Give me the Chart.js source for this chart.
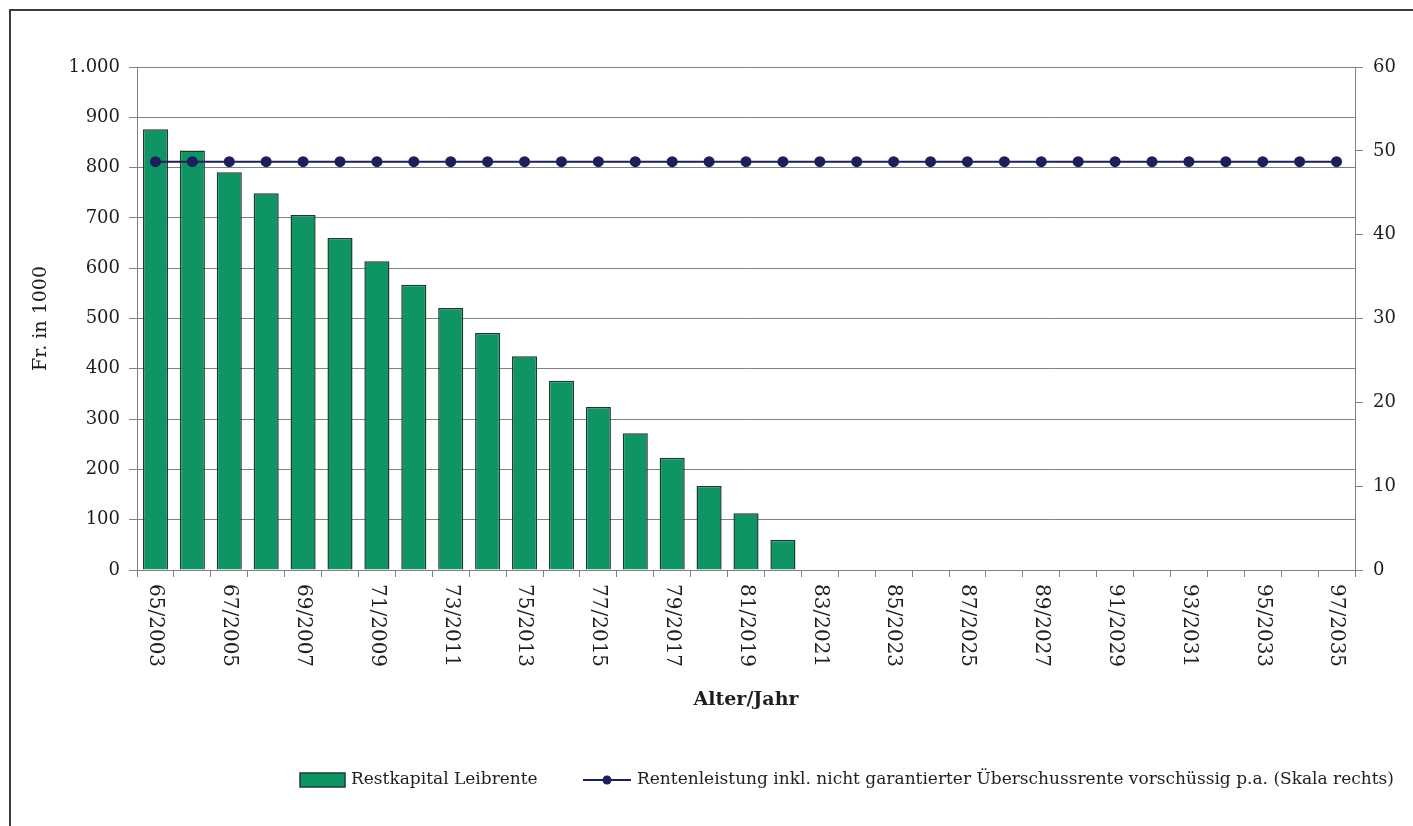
<!DOCTYPE html>
<html>
<head>
<meta charset="utf-8">
<script src="https://cdn.jsdelivr.net/npm/chart.js@4.4.1/dist/chart.umd.min.js"></script>
<style>
  body { margin: 0; background: #fff; }
  canvas { display: block; }
</style>
</head>
<body>
<canvas id="chart" width="1413" height="826"></canvas>
<script>
// categories: Alter/Jahr
const labels = ["65/2003", "66/2004", "67/2005", "68/2006", "69/2007", "70/2008", "71/2009", "72/2010",
  "73/2011", "74/2012", "75/2013", "76/2014", "77/2015", "78/2016", "79/2017", "80/2018", "81/2019",
  "82/2020", "83/2021", "84/2022", "85/2023", "86/2024", "87/2025", "88/2026", "89/2027", "90/2028",
  "91/2029", "92/2030", "93/2031", "94/2032", "95/2033", "96/2034", "97/2035"];

// Restkapital Leibrente, Fr. in 1000
const restkapital = [876, 834, 791, 749, 706, 660, 614, 567, 521, 471, 425, 376, 324, 272, 223, 167, 113, 60];

// Rentenleistung p.a. (Skala rechts)
const rente = [48.7, 48.7, 48.7, 48.7, 48.7, 48.7, 48.7, 48.7, 48.7, 48.7, 48.7, 48.7, 48.7, 48.7, 48.7,
  48.7, 48.7, 48.7, 48.7, 48.7, 48.7, 48.7, 48.7, 48.7, 48.7, 48.7, 48.7, 48.7, 48.7, 48.7, 48.7, 48.7, 48.7];

const leftTicks = [0, 100, 200, 300, 400, 500, 600, 700, 800, 900, 1000];
const rightTicks = [0, 10, 20, 30, 40, 50, 60];

const barLabel = "Restkapital Leibrente";
const lineLabel = "Rentenleistung inkl. nicht garantierter Überschussrente vorschüssig p.a. (Skala rechts)";

const FONT = "'DejaVu Serif', serif";
const TEXT = "#1e1e1e";
const GRID = "#808080";
const GREEN = "#0f9464";
const GREEN_EDGE = "#1e3a2c";
const NAVY = "#1c1f5c";

function deNumber(v) {
  return String(v).replace(/\B(?=(\d{3})+(?!\d))/g, ".");
}

// frame lines, rotated x labels and legend
const decorations = {
  id: "decorations",
  beforeDraw(chart) {
    const ctx = chart.ctx;
    ctx.save();
    ctx.strokeStyle = "#3a3a3a";
    ctx.lineWidth = 2;
    ctx.beginPath();
    ctx.moveTo(10, 826);
    ctx.lineTo(10, 10);
    ctx.lineTo(1413, 10);
    ctx.stroke();
    ctx.restore();
  },
  afterDraw(chart) {
    const ctx = chart.ctx;
    const xs = chart.scales.x;
    ctx.save();
    ctx.fillStyle = TEXT;
    ctx.font = "20px " + FONT;
    ctx.textAlign = "left";
    ctx.textBaseline = "middle";
    labels.forEach((lab, i) => {
      if (i % 2 !== 0) return;
      const x = xs.getPixelForValue(i);
      ctx.save();
      ctx.translate(x, 584);
      ctx.rotate(Math.PI / 2);
      ctx.fillText(lab, 0, 0);
      ctx.restore();
    });

    // legend
    const ly = 780;
    ctx.fillStyle = GREEN;
    ctx.fillRect(300, ly - 7, 45, 14);
    ctx.strokeStyle = GREEN_EDGE;
    ctx.lineWidth = 1.5;
    ctx.strokeRect(300, ly - 7, 45, 14);
    ctx.fillStyle = TEXT;
    ctx.font = "17px " + FONT;
    ctx.fillText(chart.data.datasets[0].label, 351, ly);

    ctx.strokeStyle = NAVY;
    ctx.lineWidth = 2;
    ctx.beginPath();
    ctx.moveTo(583, ly);
    ctx.lineTo(631, ly);
    ctx.stroke();
    ctx.fillStyle = NAVY;
    ctx.beginPath();
    ctx.arc(607, ly, 4.5, 0, Math.PI * 2);
    ctx.fill();
    ctx.fillStyle = TEXT;
    ctx.fillText(chart.data.datasets[1].label, 637, ly);
    ctx.restore();
  }
};

const ctx = document.getElementById("chart").getContext("2d");
const chart = new Chart(ctx, {
  data: {
    labels: labels,
    datasets: [
      {
        type: "bar",
        label: barLabel,
        data: restkapital,
        yAxisID: "y",
        backgroundColor: GREEN,
        borderColor: GREEN_EDGE,
        borderWidth: 1.5,
        barPercentage: 0.68,
        categoryPercentage: 1,
        order: 2
      },
      {
        type: "line",
        label: lineLabel,
        data: rente,
        yAxisID: "y1",
        borderColor: NAVY,
        borderWidth: 2,
        pointRadius: 4.5,
        pointBackgroundColor: NAVY,
        pointBorderColor: NAVY,
        tension: 0,
        order: 1
      }
    ]
  },
  options: {
    responsive: false,
    animation: false,
    layout: { padding: { top: 67, left: 0, right: 0, bottom: 0 } },
    plugins: { legend: { display: false }, tooltip: { enabled: false } },
    scales: {
      x: {
        type: "category",
        grid: { offset: true, drawOnChartArea: false, drawTicks: true, tickLength: 7, color: GRID },
        border: { color: GRID, width: 1 },
        ticks: { display: false },
        title: {
          display: true,
          text: "Alter/Jahr",
          color: TEXT,
          font: { family: FONT, size: 19, weight: "bold" },
          padding: { top: 0, bottom: 115 }
        },
        afterFit: s => { s.height = 256; }
      },
      y: {
        position: "left",
        min: 0,
        max: 1000,
        afterBuildTicks: s => { s.ticks = leftTicks.map(v => ({ value: v })); },
        ticks: {
          color: TEXT,
          font: { family: FONT, size: 18 },
          padding: 9,
          callback: v => deNumber(v)
        },
        grid: { color: GRID, tickLength: 8, lineWidth: 1 },
        border: { color: GRID, width: 1 },
        title: {
          display: true,
          text: "Fr. in 1000",
          color: TEXT,
          font: { family: FONT, size: 19 },
          padding: { top: 30, bottom: 0 }
        },
        afterFit: s => { s.width = 137; }
      },
      y1: {
        position: "right",
        min: 0,
        max: 60,
        afterBuildTicks: s => { s.ticks = rightTicks.map(v => ({ value: v })); },
        ticks: { color: TEXT, font: { family: FONT, size: 18 }, padding: 10 },
        grid: { drawOnChartArea: false, color: GRID, tickLength: 8 },
        border: { color: GRID, width: 1 },
        afterFit: s => { s.width = 58; }
      }
    }
  },
  plugins: [decorations]
});
</script>
</body>
</html>
